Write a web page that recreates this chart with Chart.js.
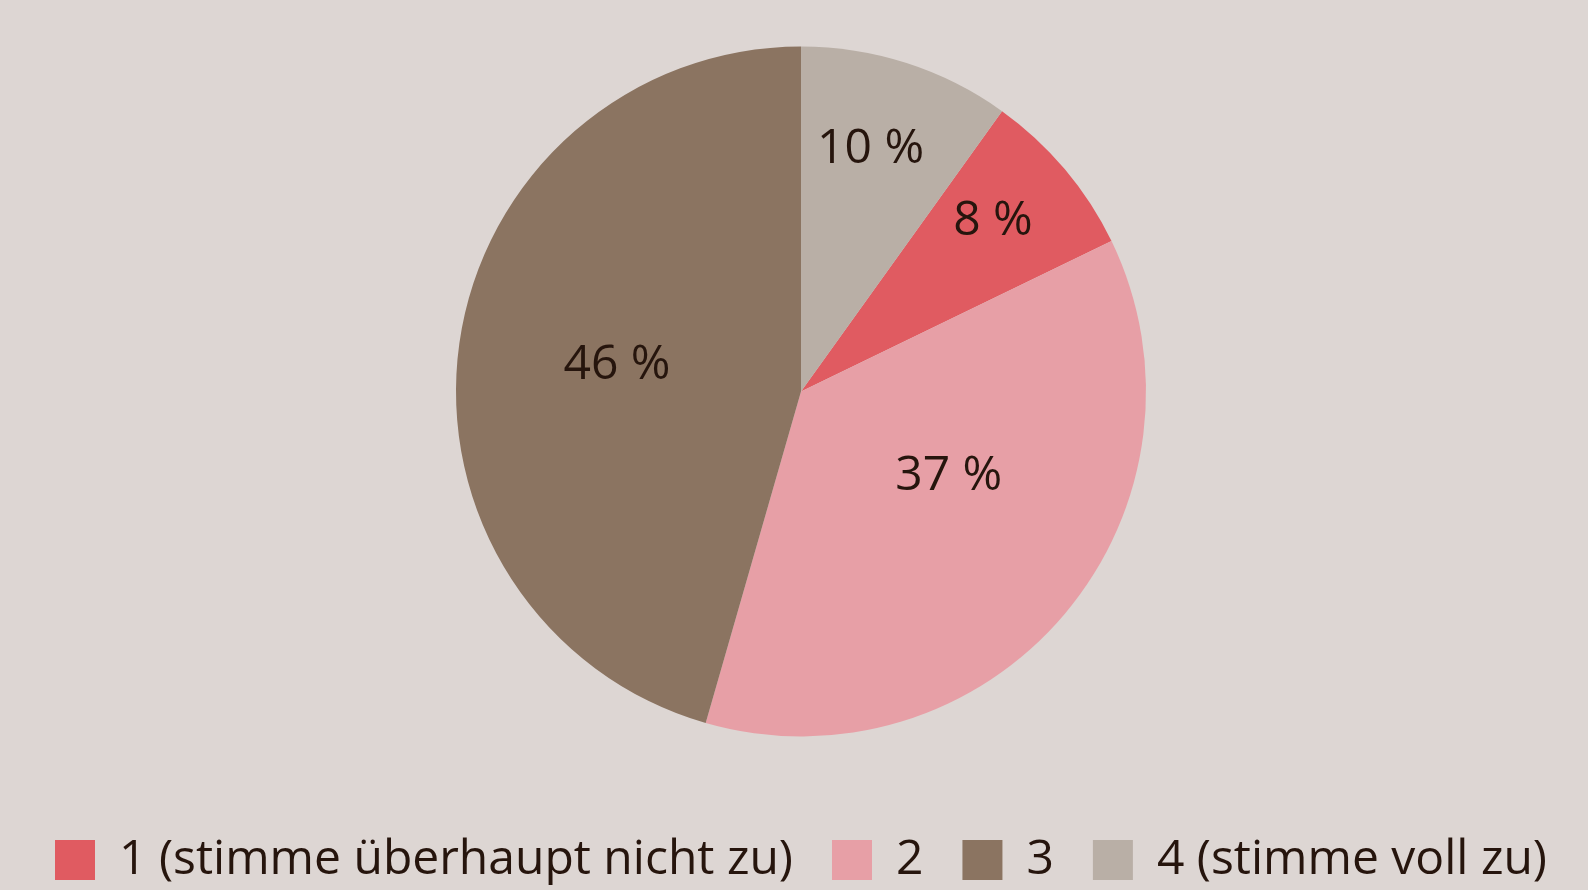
<!DOCTYPE html>
<html>
<head>
<meta charset="utf-8">
<script src="https://cdn.jsdelivr.net/npm/chart.js@4/dist/chart.umd.min.js"></script>
<style>
  html, body { margin: 0; padding: 0; background: #ddd6d3; }
  #wrap { width: 1588px; height: 890px; position: relative; }
</style>
</head>
<body>
<div id="wrap"><canvas id="c" width="1588" height="890"></canvas></div>
<script>
// Data
const categories = ['1 (stimme überhaupt nicht zu)', '2', '3', '4 (stimme voll zu)'];
const values = [8, 37, 46, 10];
const valueLabels = ['8 %', '37 %', '46 %', '10 %'];
const colors = ['#e05b61', '#e79fa6', '#8b7461', '#b9afa6'];

const textColor = '#26150d';
const fontFamily = "'Open Sans', 'Noto Sans', sans-serif";

// Label placement (style): radius fraction and angular shift (deg) per slice
const labelPlace = [
  { r: 0.75, shift: -2 },
  { r: 0.49, shift: -11 },
  { r: 0.54, shift: 1 },
  { r: 0.74, shift: -2 }
];

const sliceLabels = {
  id: 'sliceLabels',
  afterDatasetsDraw(chart) {
    const ctx = chart.ctx;
    const meta = chart.getDatasetMeta(0);
    ctx.save();
    ctx.fillStyle = textColor;
    ctx.font = "48px " + fontFamily;
    ctx.textAlign = 'center';
    ctx.textBaseline = 'middle';
    meta.data.forEach((arc, i) => {
      const p = arc.getProps(['x', 'y', 'startAngle', 'endAngle', 'outerRadius'], true);
      const mid = (p.startAngle + p.endAngle) / 2 + labelPlace[i].shift * Math.PI / 180;
      const r = p.outerRadius * labelPlace[i].r;
      ctx.fillText(valueLabels[i], p.x + Math.cos(mid) * r, p.y + Math.sin(mid) * r + 3);
    });
    ctx.restore();
  }
};

const bgPlugin = {
  id: 'bg',
  beforeDraw(chart) {
    const ctx = chart.ctx;
    ctx.save();
    ctx.fillStyle = '#ddd6d3';
    ctx.fillRect(0, 0, chart.width, chart.height);
    ctx.restore();
  }
};

const total = values.reduce((a, b) => a + b, 0);

new Chart(document.getElementById('c'), {
  type: 'pie',
  data: {
    labels: categories,
    datasets: [{
      data: values,
      backgroundColor: colors,
      borderWidth: 0,
      radius: 345
    }]
  },
  options: {
    responsive: false,
    animation: false,
    rotation: values[values.length - 1] / total * 360,
    layout: { padding: { left: 14, top: 0, right: 0, bottom: 0 } },
    plugins: {
      tooltip: { enabled: false },
      legend: {
        position: 'bottom',
        maxHeight: 107,
        title: { display: true, text: '', padding: 1, font: { size: 10 } },
        labels: {
          boxWidth: 40,
          boxHeight: 40,
          padding: 39,
          color: textColor,
          font: { size: 48, family: fontFamily }
        }
      }
    }
  },
  plugins: [bgPlugin, sliceLabels]
});
</script>
</body>
</html>
